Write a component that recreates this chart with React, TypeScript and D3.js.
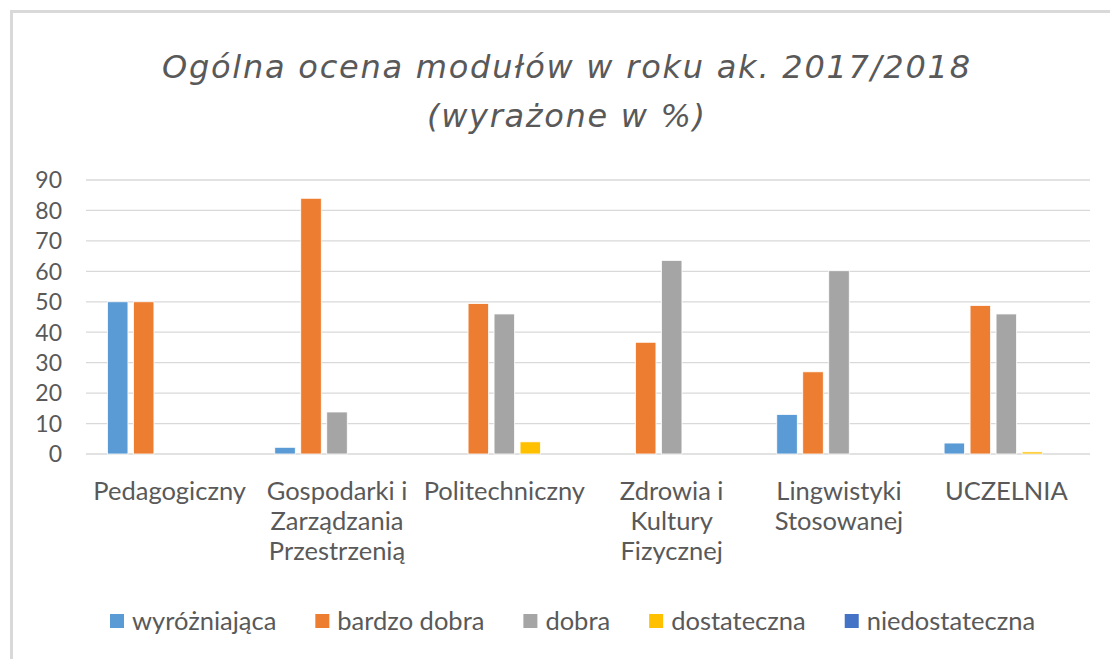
import React from "react";
import * as d3 from "d3";

const categoryLines: string[][] = [
  ["Pedagogiczny"],
  ["Gospodarki i", "Zarządzania", "Przestrzenią"],
  ["Politechniczny"],
  ["Zdrowia i", "Kultury", "Fizycznej"],
  ["Lingwistyki", "Stosowanej"],
  ["UCZELNIA"],
];
const categories = categoryLines.map((l) => l.join(" "));

const seriesNames = ["wyróżniająca", "bardzo dobra", "dobra", "dostateczna", "niedostateczna"];
const seriesColors = ["#5B9BD5", "#ED7D31", "#A5A5A5", "#FFC000", "#4472C4"];

const wyrozniajaca = [50, 2.2, 0, 0, 13, 3.6];
const bardzoDobra = [50, 84, 49.4, 36.7, 27, 48.8];
const dobra = [0, 13.8, 46, 63.6, 60.2, 46];
const dostateczna = [0, 0, 4, 0, 0, 0.7];
const niedostateczna = [0, 0, 0, 0, 0, 0];
const seriesValues = [wyrozniajaca, bardzoDobra, dobra, dostateczna, niedostateczna];

const yTicks = [0, 10, 20, 30, 40, 50, 60, 70, 80, 90];
const titleLines = ["Ogólna ocena modułów w roku ak. 2017/2018", "(wyrażone w %)"];
const titleWidths = [808, 278];

const W = 1110;
const H = 659;
const FONT = "Lato, 'Open Sans', sans-serif";
const TEXT = "#595959";

function measure(text: string, font: string): number {
  const c = document.createElement("canvas");
  const ctx = c.getContext("2d")!;
  ctx.font = font;
  return ctx.measureText(text).width;
}

export default function App() {
  const plotL = 86, plotR = 1090, plotT = 180, plotB = 454;
  const x0 = d3.scaleBand<string>().domain(categories).range([plotL, plotR]).paddingInner(0.256).paddingOuter(0.128);
  const x1 = d3.scaleBand<string>().domain(seriesNames).range([0, x0.bandwidth()]).paddingInner(0.21);
  const y = d3.scaleLinear().domain([0, 90]).range([plotB, plotT]);

  const labelSize = 25.5;
  const legendFontSize = 25.5;
  const legendFont = `${legendFontSize}px Lato`;
  const sq = 14, sqGap = 8, itemGap = 39;
  const widths = seriesNames.map((n) => measure(n, legendFont));
  let lx = 110;
  const legendItems = seriesNames.map((n, i) => {
    const item = { name: n, x: lx, color: seriesColors[i] };
    lx += sq + sqGap + widths[i] + itemGap;
    return item;
  });
  const legendY = 621;

  return (
    <svg width={W} height={H} style={{ position: "absolute", left: 0, top: 0, background: "#fff" }} fontFamily={FONT}>
      <rect x={0} y={0} width={W} height={H} fill="#fff" />
      <path d={`M11.5,${H} L11.5,11.5 L${W},11.5`} fill="none" stroke="#d9d9d9" strokeWidth={3} />
      {titleLines.map((t, i) => (
        <text
          key={t}
          x={566 - titleWidths[i] / 2}
          y={78 + i * 49}
          textLength={titleWidths[i]}
          lengthAdjust="spacing"
          fontFamily="'DejaVu Sans', 'Open Sans', sans-serif"
          fontSize={32}
          fontStyle="italic"
          fontWeight={400}
          fill={TEXT}
        >
          {t}
        </text>
      ))}
      {yTicks.map((t) => (
        <g key={t}>
          <line x1={plotL} x2={plotR} y1={y(t)} y2={y(t)} stroke="#d9d9d9" strokeWidth={1.3} />
          <text x={62} y={y(t)} dy="0.36em" textAnchor="end" fontSize={23} fill={TEXT}>
            {t}
          </text>
        </g>
      ))}
      {categories.map((c, ci) => (
        <g key={c} transform={`translate(${x0(c)},0)`}>
          {seriesNames.map((s, si) => {
            const v = seriesValues[si][ci];
            if (!v) return null;
            return (
              <rect
                key={s}
                x={x1(s)}
                y={y(v)}
                width={x1.bandwidth()}
                height={y(0) - y(v)}
                fill={seriesColors[si]}
                stroke="#fff"
                strokeWidth={0.8}
              />
            );
          })}
        </g>
      ))}
      {categoryLines.map((lines, ci) => (
        <text key={ci} x={(x0(categories[ci]) ?? 0) + x0.bandwidth() / 2} y={500} textAnchor="middle" fontSize={labelSize} fill={TEXT}>
          {lines.map((l, li) => (
            <tspan key={li} x={(x0(categories[ci]) ?? 0) + x0.bandwidth() / 2} y={500 + li * 30}>
              {l}
            </tspan>
          ))}
        </text>
      ))}
      {legendItems.map((it) => (
        <g key={it.name}>
          <rect x={it.x} y={legendY - sq / 2} width={sq} height={sq} fill={it.color} />
          <text x={it.x + sq + sqGap} y={legendY} dy="0.36em" fontSize={legendFontSize} fill={TEXT}>
            {it.name}
          </text>
        </g>
      ))}
    </svg>
  );
}
